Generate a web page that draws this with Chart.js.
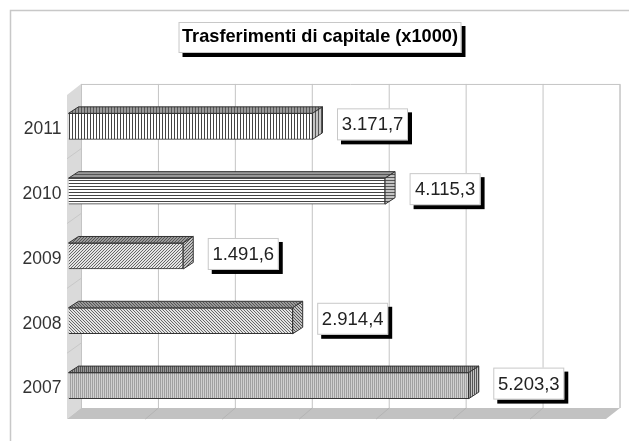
<!DOCTYPE html>
<html>
<head>
<meta charset="utf-8">
<script src="https://cdn.jsdelivr.net/npm/chart.js@4"></script>
<style>
  html, body { margin: 0; padding: 0; background: #fff; }
  #wrap { position: relative; width: 629px; height: 441px; }
</style>
</head>
<body>
<div id="wrap"><canvas id="c"></canvas></div>
<script>
const chartTitle = 'Trasferimenti di capitale (x1000)';
const years = ['2011', '2010', '2009', '2008', '2007'];
const amounts = [3171.7, 4115.3, 1491.6, 2914.4, 5203.3];
const amountLabels = ['3.171,7', '4.115,3', '1.491,6', '2.914,4', '5.203,3'];
const hatches = ['vertical', 'horizontal', 'forward', 'backward', 'dense'];

const WALL_DX = 13, WALL_DY = 10;   // profondita' del fondale
const BAR_DX = 10, BAR_DY = 6.5;    // profondita' delle barre
const GRID = '#c4c4c4';
const FONT = '"Liberation Sans", Arial, sans-serif';

// retini come nell'originale; i colori servono a simulare la resa sfumata del jpeg
function hatch(kind, fg, bg) {
    const size = { vertical: 3, horizontal: 3, forward: 3, backward: 3, dense: 2 }[kind];
    const cv = document.createElement('canvas');
    cv.width = cv.height = size;
    const g = cv.getContext('2d');
    g.fillStyle = bg;
    g.fillRect(0, 0, size, size);
    g.fillStyle = fg;
    if (kind === 'vertical') g.fillRect(0, 0, 1, size);
    if (kind === 'horizontal') g.fillRect(0, 0, size, 1);
    if (kind === 'forward') for (let i = 0; i < size; i++) g.fillRect(size - 1 - i, i, 1, 1);
    if (kind === 'backward') for (let i = 0; i < size; i++) g.fillRect(i, i, 1, 1);
    if (kind === 'dense') { g.fillRect(0, 0, 1, size); }
    return g.createPattern(cv, 'repeat');
}

function faceHatch(kind) {
    if (kind === 'vertical' || kind === 'horizontal') return hatch(kind, '#444', '#fff');
    if (kind === 'dense') return hatch(kind, '#a0a0a0', '#d0d0d0');
    return hatch(kind, '#666', '#e4e4e4');
}

function poly(ctx, pts, fill, stroke) {
    ctx.beginPath();
    pts.forEach((p, i) => i ? ctx.lineTo(p[0], p[1]) : ctx.moveTo(p[0], p[1]));
    ctx.closePath();
    if (fill) { ctx.fillStyle = fill; ctx.fill(); }
    if (stroke) { ctx.strokeStyle = stroke; ctx.stroke(); }
}

function shadowBox(ctx, x, y, w, h) {
    ctx.fillStyle = '#000';
    ctx.fillRect(x + 4, y + 4, w, h);
    ctx.fillStyle = '#fff';
    ctx.fillRect(x, y, w, h);
    ctx.strokeStyle = '#c8c8c8';
    ctx.lineWidth = 1;
    ctx.strokeRect(x + 0.5, y + 0.5, w - 1, h - 1);
}

const sceneryPlugin = {
    id: 'scenery',
    beforeDraw(chart) {
        const { ctx, chartArea: a, scales } = chart;
        const left = a.left - 1.5, bottom = a.bottom + 1;
        // l'area di clip delle etichette parte da scale.left: la allargo
        scales.y.left = 12;
        ctx.save();

        // cornice esterna, solo sopra e a sinistra
        ctx.strokeStyle = '#c8c8c8';
        ctx.lineWidth = 1.5;
        ctx.beginPath();
        ctx.moveTo(10.5, 441);
        ctx.lineTo(10.5, 10.5);
        ctx.lineTo(629, 10.5);
        ctx.stroke();

        const backL = left + WALL_DX + 1, backT = a.top - WALL_DY, backB = bottom - 11;
        const backR = a.right + WALL_DX;

        poly(ctx, [[left, a.top + 1], [backL, backT], [backL, backB], [left, bottom]], '#dadada');
        poly(ctx, [[left, bottom], [backL, backB], [backR, backB], [a.right - 1, bottom]], '#c2c2c2');

        ctx.lineWidth = 1;
        ctx.strokeStyle = GRID;
        scales.x.ticks.forEach(t => {
            const x = scales.x.getPixelForValue(t.value);
            ctx.beginPath();
            ctx.moveTo(x + WALL_DX, backT);
            ctx.lineTo(x + WALL_DX, backB);
            ctx.stroke();
            if (t.value > 0 && t.value < 7000) {
                ctx.beginPath();
                ctx.moveTo(x + WALL_DX, backB);
                ctx.lineTo(x, bottom);
                ctx.strokeStyle = '#b4b4b4';
                ctx.stroke();
                ctx.strokeStyle = GRID;
            }
        });
        ctx.beginPath();
        ctx.moveTo(backL, backT + 0.5);
        ctx.lineTo(backR, backT + 0.5);
        ctx.lineTo(backR, backB);
        ctx.stroke();

        // tacche sul fianco sinistro
        ctx.strokeStyle = '#c8c8c8';
        years.forEach((y, i) => {
            if (!i) return;
            const p = scales.y.getPixelForValue(i) - (a.height / years.length) / 2;
            ctx.beginPath();
            ctx.moveTo(left, p);
            ctx.lineTo(backL, p - WALL_DY);
            ctx.stroke();
        });

        // riquadro del titolo
        const t = chart.titleBlock;
        ctx.font = 'bold 18.2px ' + FONT;
        const w = ctx.measureText(chartTitle).width + 7;
        shadowBox(ctx, (t.left + t.right) / 2 - w / 2, 22, w, 31);
        ctx.restore();
    },
    afterDatasetsDraw(chart) {
        const { ctx } = chart;
        ctx.save();
        chart.getDatasetMeta(0).data.forEach((bar, i) => {
            const top = bar.y - bar.height / 2, bot = bar.y + bar.height / 2;
            const x0 = bar.base, x1 = bar.x;
            ctx.lineWidth = 1;
            poly(ctx, [[x0, top], [x0 + BAR_DX, top - BAR_DY], [x1 + BAR_DX, top - BAR_DY], [x1, top]],
                hatch(hatches[i], '#555', '#999'), '#333');
            poly(ctx, [[x1, top], [x1 + BAR_DX, top - BAR_DY], [x1 + BAR_DX, bot - BAR_DY], [x1, bot]],
                hatch(hatches[i], '#555', '#c4c4c4'), '#333');

            // etichetta del valore
            const bx = x1 + 24.5, by = bar.y - 18;
            shadowBox(ctx, bx, by, 71, 32);
            ctx.fillStyle = '#222';
            ctx.font = '18.5px ' + FONT;
            ctx.textAlign = 'center';
            ctx.textBaseline = 'middle';
            ctx.fillText(amountLabels[i], bx + 35.5, by + 17);
        });
        ctx.restore();
    }
};

new Chart(document.getElementById('c'), {
    type: 'bar',
    data: {
        labels: years,
        datasets: [{
            label: chartTitle,
            data: amounts,
            backgroundColor: hatches.map(faceHatch),
            borderColor: '#333',
            borderWidth: 1,
            barThickness: 26
        }]
    },
    options: {
        indexAxis: 'y',
        responsive: true,
        maintainAspectRatio: false,
        animation: false,
        layout: { padding: { left: 33, right: 22, top: 22, bottom: 23 } },
        plugins: {
            legend: { display: false },
            tooltip: { enabled: false },
            title: {
                display: true,
                text: chartTitle,
                color: '#000',
                font: { family: FONT, size: 18.2, weight: 'bold', lineHeight: 1.2 },
                padding: { top: 4.5, bottom: 45.6 }
            }
        },
        scales: {
            x: {
                display: false,
                min: 0,
                max: 7000,
                ticks: { stepSize: 1000 }
            },
            y: {
                afterFit(s) {
                    s.width = 35.5;
                    // nell'originale le etichette stanno 3px sotto il centro della barra
                    if (!s._tickShifted) {
                        const tickPixel = s.getPixelForTick;
                        s.getPixelForTick = i => tickPixel.call(s, i) + 3;
                        s._tickShifted = true;
                    }
                },
                grid: { display: false, drawTicks: false },
                border: { display: false },
                ticks: {
                    color: '#333',
                    padding: 7,
                    font: { family: FONT, size: 17.5 }
                }
            }
        }
    },
    plugins: [sceneryPlugin]
});
</script>
</body>
</html>
